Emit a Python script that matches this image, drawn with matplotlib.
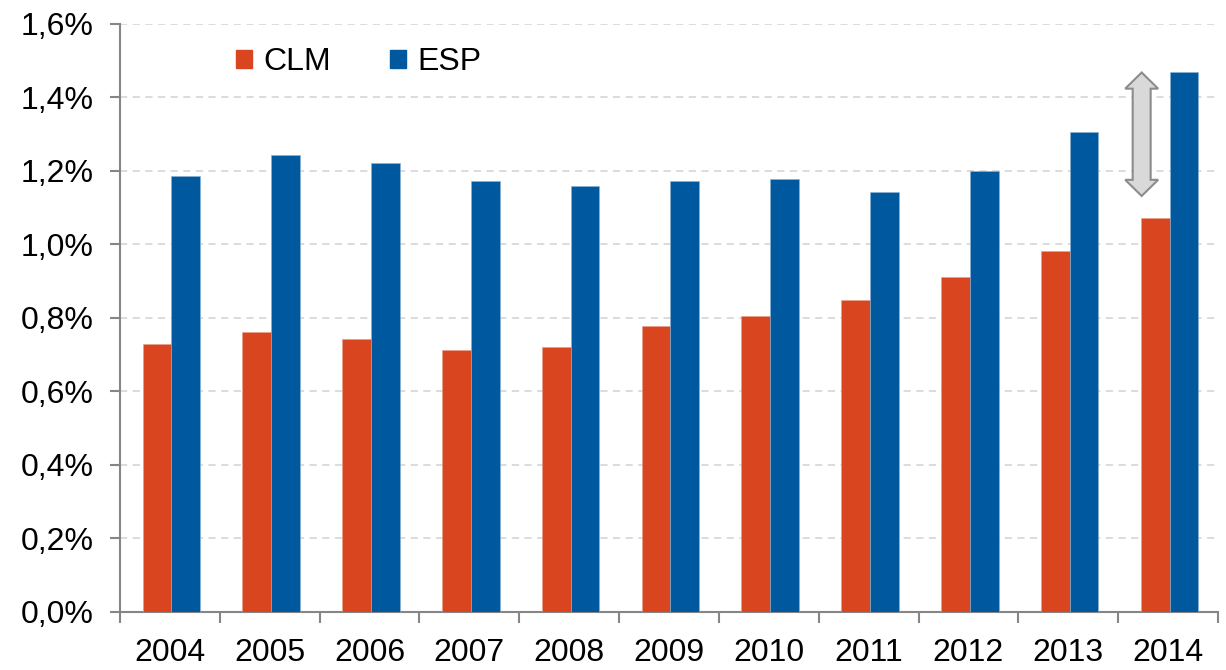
import matplotlib.pyplot as plt
import numpy as np
from matplotlib.patches import Polygon, Patch
from matplotlib.ticker import FuncFormatter

plt.rcParams['font.family'] = ['Liberation Sans', 'DejaVu Sans']

# data (% of GDP)
years = ['2004', '2005', '2006', '2007', '2008', '2009',
         '2010', '2011', '2012', '2013', '2014']
clm = [0.729, 0.763, 0.744, 0.714, 0.721, 0.777, 0.806, 0.848, 0.911, 0.982, 1.073]
esp = [1.187, 1.243, 1.222, 1.172, 1.158, 1.172, 1.179, 1.144, 1.201, 1.306, 1.468]
labels = ['CLM', 'ESP']

# gap marker drawn next to the last pair of bars
gap_low = 1.132
gap_high = esp[-1]

CLM_COLOR = '#D8451E'
ESP_COLOR = '#00589E'
AXIS_GRAY = '#868686'

fig = plt.figure(figsize=(12.26, 6.70), dpi=100)
ax = fig.add_axes([0.0979, 0.0866, 0.8956, 0.8776])

x = np.arange(len(years))
w = 0.288
ax.bar(x - w / 2 + 0.014, clm, w, color=CLM_COLOR, edgecolor='#e9a08a', linewidth=0.4, zorder=3)
ax.bar(x + w / 2 + 0.014, esp, w, color=ESP_COLOR, edgecolor='#8fb3d6', linewidth=0.4, zorder=3)

# double-headed gap arrow
cx = len(years) - 1 - 0.265
shaft = 0.09
head = 0.165
hl = 0.044
pts = [
    (cx, gap_high),
    (cx + head, gap_high - hl),
    (cx + shaft, gap_high - hl),
    (cx + shaft, gap_low + hl),
    (cx + head, gap_low + hl),
    (cx, gap_low),
    (cx - head, gap_low + hl),
    (cx - shaft, gap_low + hl),
    (cx - shaft, gap_high - hl),
    (cx - head, gap_high - hl),
]
ax.add_patch(Polygon(pts, closed=True, facecolor='#d9d9d9', edgecolor='#8c8c8c',
                     linewidth=1.5, zorder=4))

ax.set_xlim(-0.5, len(years) - 0.5)
ax.set_ylim(0, 1.6)
ax.set_yticks(np.arange(0, 1.61, 0.2))
ax.yaxis.set_major_formatter(FuncFormatter(lambda v, p: f'{v:.1f}%'.replace('.', ',')))
ax.yaxis.grid(True, linestyle=(0, (4, 3)), color='#d9d9d9', linewidth=1.3, zorder=0)
ax.set_axisbelow(True)

ax.set_xticks(x)
ax.set_xticklabels(years)
ax.set_xticks(np.arange(-0.5, len(years)), minor=True)
ax.tick_params(axis='x', which='major', length=0, pad=19, labelsize=23)
ax.tick_params(axis='x', which='minor', length=8, width=1.5, color=AXIS_GRAY, direction='out')
ax.tick_params(axis='y', length=7, width=1.5, color=AXIS_GRAY, labelsize=23, pad=12)

for side in ['top', 'right']:
    ax.spines[side].set_visible(False)
for side in ['left', 'bottom']:
    ax.spines[side].set_color(AXIS_GRAY)
    ax.spines[side].set_linewidth(1.5)

handles = [Patch(color=CLM_COLOR), Patch(color=ESP_COLOR)]
ax.legend(handles, labels, loc='center left', bbox_to_anchor=(0.0795, 0.935), ncol=2,
          frameon=False, fontsize=23, handlelength=0.5, handleheight=0.5,
          handletextpad=0.35, columnspacing=1.85)

fig.savefig('out.png', dpi=100)
